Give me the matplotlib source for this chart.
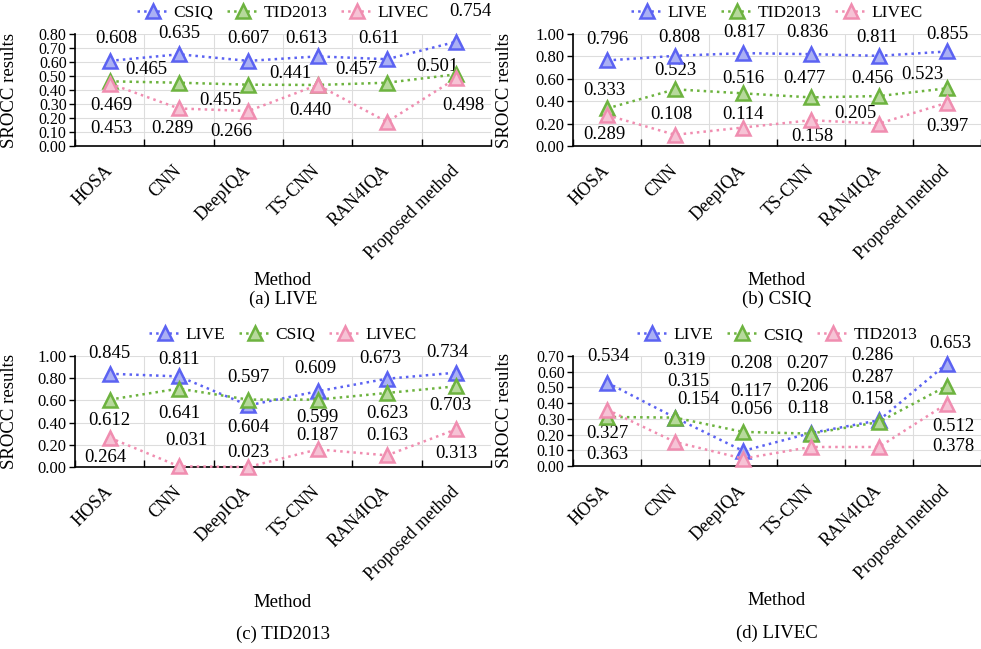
import matplotlib
matplotlib.use('Agg')
import matplotlib.pyplot as plt
import matplotlib.transforms as mtransforms
import numpy as np

plt.rcParams['font.family'] = ['Liberation Serif', 'DejaVu Serif']

methods = ['HOSA', 'CNN', 'DeepIQA', 'TS-CNN', 'RAN4IQA', 'Proposed method']

# (a) LIVE
a_names = ['CSIQ', 'TID2013', 'LIVEC']
a_csiq = [0.608, 0.655, 0.608, 0.640, 0.620, 0.745]
a_tid = [0.462, 0.452, 0.438, 0.436, 0.452, 0.512]
a_livec = [0.446, 0.268, 0.250, 0.436, 0.172, 0.484]

# (b) CSIQ
b_names = ['LIVE', 'TID2013', 'LIVEC']
b_live = [0.764, 0.805, 0.829, 0.820, 0.805, 0.844]
b_tid = [0.335, 0.506, 0.470, 0.434, 0.446, 0.515]
b_livec = [0.275, 0.100, 0.165, 0.230, 0.200, 0.386]

# (c) TID2013
c_names = ['LIVE', 'CSIQ', 'LIVEC']
c_live = [0.840, 0.816, 0.555, 0.682, 0.795, 0.850]
c_csiq = [0.607, 0.706, 0.607, 0.607, 0.667, 0.727]
c_livec = [0.264, 0.006, 0.000, 0.159, 0.105, 0.340]

# (d) LIVEC
d_names = ['LIVE', 'CSIQ', 'TID2013']
d_live = [0.531, 0.308, 0.096, 0.210, 0.291, 0.652]
d_csiq = [0.312, 0.308, 0.217, 0.206, 0.280, 0.510]
d_tid = [0.359, 0.153, 0.047, 0.121, 0.121, 0.397]

# value labels as printed on the chart
a_labels = ['0.608', '0.635', '0.607', '0.613', '0.611', '0.754',
            '0.465', '0.441', '0.457', '0.501',
            '0.469', '0.455', '0.440', '0.498',
            '0.453', '0.289', '0.266']
b_labels = ['0.796', '0.808', '0.817', '0.836', '0.811', '0.855',
            '0.523', '0.516', '0.477', '0.456', '0.523',
            '0.333', '0.108', '0.114', '0.205',
            '0.289', '0.158', '0.397']
c_labels = ['0.845', '0.811', '0.597', '0.609', '0.673', '0.734',
            '0.612', '0.641', '0.604', '0.599', '0.623', '0.703',
            '0.264', '0.031', '0.023', '0.187', '0.163', '0.313']
d_labels = ['0.534', '0.319', '0.208', '0.207', '0.286', '0.653',
            '0.315', '0.117', '0.206', '0.287',
            '0.154', '0.056', '0.118', '0.158',
            '0.327', '0.363', '0.512', '0.378']

# where the labels sit (category index, y value)
a_pos = [(0.1, 0.771), (1.0, 0.807), (2.0, 0.771), (2.83, 0.771), (3.88, 0.771), (5.2, 0.963),
         (0.53, 0.544), (2.6, 0.520), (3.56, 0.544), (4.72, 0.568),
         (0.02, 0.287), (1.59, 0.323), (2.89, 0.256), (5.1, 0.287),
         (0.02, 0.125), (0.91, 0.125), (1.75, 0.105)]
b_pos = [(0.0, 0.949), (1.07, 0.970), (2.02, 1.009), (2.95, 1.009), (3.97, 0.970), (5.0, 0.994),
         (1.01, 0.671), (2.0, 0.599), (2.9, 0.599), (3.9, 0.599), (4.64, 0.635),
         (-0.04, 0.494), (0.94, 0.281), (2.0, 0.281), (3.65, 0.290),
         (-0.04, 0.105), (3.02, 0.081), (5.0, 0.177)]
c_pos = [(0.0, 1.027), (1.0, 0.970), (2.0, 0.805), (2.96, 0.886), (3.9, 0.976), (4.87, 1.036),
         (0.0, 0.420), (1.0, 0.480), (2.0, 0.354), (3.0, 0.444), (4.0, 0.480), (4.91, 0.556),
         (-0.07, 0.090), (1.1, 0.240), (2.0, 0.135), (3.0, 0.285), (4.0, 0.285), (5.0, 0.120)]
d_pos = [(0.02, 0.694), (1.14, 0.672), (2.12, 0.651), (2.95, 0.651), (3.9, 0.704), (5.05, 0.778),
         (1.2, 0.535), (2.12, 0.477), (2.95, 0.503), (3.9, 0.566),
         (1.34, 0.422), (2.12, 0.361), (2.95, 0.365), (3.9, 0.422),
         (0.0, 0.206), (0.0, 0.074), (5.1, 0.252), (5.1, 0.125)]

line_colors = ['#5b62f2', '#6db33f', '#f08db0']
fill_colors = ['#aab0f4', '#b7d99c', '#f6c3d5']

W, H = 981, 649
fig = plt.figure(figsize=(W / 100, H / 100), dpi=100)


def make_axes(left, right, top, bottom):
    return fig.add_axes([left / W, 1 - bottom / H, (right - left) / W, (bottom - top) / H])


panels = [
    (make_axes(75, 491, 34, 146), a_names, [a_csiq, a_tid, a_livec], a_labels, a_pos,
     0.8, 0.1, '(a) LIVE', -1.20, -1.37, -0.136),
    (make_axes(573, 981, 34, 146), b_names, [b_live, b_tid, b_livec], b_labels, b_pos,
     1.0, 0.2, '(b) CSIQ', -1.20, -1.37, -0.147),
    (make_axes(75, 491, 356, 467), c_names, [c_live, c_csiq, c_livec], c_labels, c_pos,
     1.0, 0.2, '(c) TID2013', -1.22, -1.51, -0.136),
    (make_axes(573, 981, 356, 466), d_names, [d_live, d_csiq, d_tid], d_labels, d_pos,
     0.7, 0.1, '(d) LIVEC', -1.22, -1.52, -0.147),
]

x = np.arange(len(methods))
shift = mtransforms.ScaledTranslation(7 / 100, 0, fig.dpi_scale_trans)

for ax, names, series, labels, pos, ymax, ystep, caption, xl_y, cap_y, yl_x in panels:
    for i, (name, vals) in enumerate(zip(names, series)):
        ax.plot(x, vals, linestyle=':', linewidth=1.8, color=line_colors[i],
                marker='^', markersize=10, markerfacecolor=fill_colors[i],
                markeredgecolor=line_colors[i], markeredgewidth=1.8,
                label=name, zorder=4, clip_on=False)

    for (px, py), txt in zip(pos, labels):
        ax.text(px, py, txt, ha='center', va='center', fontsize=13.5, zorder=2)

    ax.set_xlim(-0.5, len(methods) - 0.5)
    ax.set_ylim(0, ymax)
    ticks = np.round(np.arange(0, ymax + ystep / 2, ystep), 2)
    ax.set_yticks(ticks)
    # the dense 0.1-step axes get slightly smaller numbers
    ax.set_yticklabels([f'{t:.2f}' for t in ticks], fontsize=11.5 if ystep < 0.2 else 12)
    ax.set_xticks(x)
    ax.set_xticklabels(methods, rotation=45, ha='right', va='center',
                       rotation_mode='anchor', fontsize=13)
    for lbl in ax.get_xticklabels():
        lbl.set_transform(lbl.get_transform() + shift)
    ax.set_xticks(np.arange(-0.5, len(methods)), minor=True)
    ax.tick_params(axis='x', which='major', length=0, pad=16)
    ax.tick_params(axis='x', which='minor', direction='in', length=5, width=1)
    ax.tick_params(axis='y', direction='out', length=4, width=1, pad=2)

    ax.grid(axis='y', color='#dddddd', linewidth=0.8)
    ax.grid(axis='x', which='minor', color='#dddddd', linewidth=0.8)
    ax.set_axisbelow(True)
    for s in ['top', 'right']:
        ax.spines[s].set_visible(False)
    for s in ['left', 'bottom']:
        ax.spines[s].set_linewidth(1.2)

    ax.set_ylabel('SROCC results', fontsize=13.5)
    ax.yaxis.set_label_coords(yl_x, 0.5)
    ax.text(0.5, xl_y, 'Method', transform=ax.transAxes, ha='center', va='center', fontsize=13.5)
    ax.text(0.5, cap_y, caption, transform=ax.transAxes, ha='center', va='center', fontsize=13.5)

    ax.legend(loc='center', bbox_to_anchor=(0.5, 1.19), ncol=3, frameon=False,
              fontsize=12.5, handlelength=1.8, handletextpad=0.3, columnspacing=0.8,
              borderaxespad=0)

fig.savefig('out.png', dpi=100)
plt.close(fig)
